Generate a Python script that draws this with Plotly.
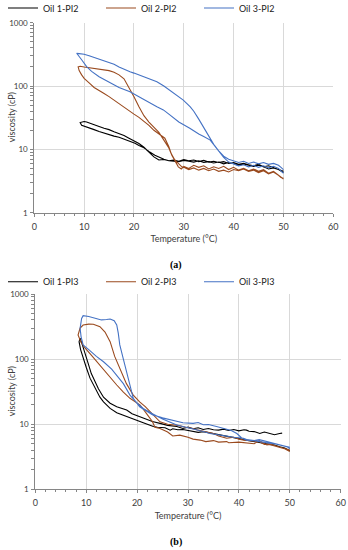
import plotly.graph_objects as go

# ---------------- Panel (a) data ----------------
a_oil1_down_T = [50, 49, 48, 47, 46, 45, 44, 43, 42, 41, 40, 39, 38, 37, 36, 35, 34, 33, 32, 31,
                 30, 29, 28, 27, 26, 25, 24.2, 23, 22, 21, 20.2, 19, 18, 17, 16, 15, 14, 13, 12, 11,
                 10, 9.5, 9.2]
a_oil1_down_v = [4.3, 4.8, 5.1, 4.9, 5.3, 5.6, 5.4, 5.7, 5.9, 5.6, 6.0, 6.2, 5.9, 6.3, 6.1, 6.4, 6.2, 6.6, 6.3, 6.5,
                 6.7, 6.4, 6.5, 6.6, 7.0, 7.6, 8.1, 9.3, 10.6, 11.5, 12.5, 13.6, 14.6, 15.5, 16.2, 17.0, 18.0, 19.2, 20.5, 21.8,
                 23.0, 24.0, 26.5]
a_oil1_up_T = [9.2, 10, 10.5, 11, 12, 13, 14, 15, 16, 17, 18, 19, 20, 21, 22, 23, 24, 25, 26, 27,
               28, 29, 30, 31, 32, 33, 34, 35, 36, 37, 38, 39, 40, 41, 42, 43, 44, 45, 46, 47,
               48, 49, 50]
a_oil1_up_v = [26.5, 27.5, 27, 26, 24.5, 23, 21.5, 20.5, 19, 17.8, 16.5, 15, 13.5, 12.4, 10.8, 9.0, 7.6, 6.8, 6.9, 6.6,
               6.8, 6.5, 6.9, 6.6, 6.8, 6.4, 6.7, 6.3, 6.5, 6.2, 6.4, 6.0, 6.2, 5.8, 6.0, 5.7, 5.5, 5.8, 5.3, 5.5,
               5.1, 4.8, 4.5]

a_oil2_down_T = [50, 49.5, 49, 48, 47, 46, 45, 44, 43, 42, 41, 40, 39, 38, 37, 36, 35, 34, 33, 32,
                 31, 30, 29.6, 28.9, 28.2, 27.5, 27, 26.2, 25, 24, 23, 22, 21, 20, 19, 18, 17, 16, 15, 14,
                 13, 12, 11, 10, 9.5, 9.0, 8.8]
a_oil2_down_v = [3.4, 3.7, 3.9, 4.4, 4.1, 4.6, 4.3, 4.7, 4.5, 4.9, 4.6, 4.8, 4.4, 4.7, 4.5, 4.9, 4.6, 5.0, 4.7, 5.1,
                 4.8, 5.2, 5.3, 6.0, 6.8, 8.5, 11, 15, 17.5, 20, 24, 28, 32, 36, 41, 47, 53, 60, 68, 76,
                 84, 95, 112, 132, 150, 175, 200]
a_oil2_up_T = [8.8, 9.2, 10, 11, 12, 13, 14, 15, 16, 16.5, 17, 18, 18.5, 19, 19.5, 20, 21, 22, 23, 24,
               25, 26, 27, 27.6, 28.3, 28.9, 29.5, 30, 31, 32, 33, 34, 35, 36, 37, 38, 39, 40, 41, 42,
               43, 44, 45, 46, 47, 48, 49, 49.5, 50]
a_oil2_up_v = [200, 205, 200, 195, 190, 185, 180, 175, 165, 159, 150, 130, 112, 95, 80, 68, 47, 34, 27, 22,
               18.5, 14, 10.5, 8.1, 6.4, 5.3, 4.9, 5.4, 5.0, 5.6, 5.2, 5.5, 4.9, 5.3, 5.0, 5.4, 4.8, 5.2, 4.7, 5.0,
               4.6, 4.9, 4.5, 4.8, 4.2, 4.5, 3.9, 3.6, 3.5]

a_oil3_up_T = [8.5, 9, 10, 11, 12.5, 14, 15, 16, 17, 18, 19.2, 20, 21, 22, 23, 24.6, 26, 27.5, 29, 29.9,
               31.3, 32, 33, 34, 35, 36, 37, 38, 39, 40, 41, 42, 43, 44, 45, 46, 47, 48, 49, 49.5, 50]
a_oil3_up_v = [329, 325, 318, 300, 275, 250, 235, 220, 200, 183, 168, 160, 150, 140, 130, 117, 100, 83, 68, 60,
               47, 40, 30, 22, 16, 12, 9.5, 7.8, 7.0, 6.5, 6.2, 6.5, 6.0, 6.3, 5.9, 6.2, 5.8, 6.0, 5.6, 5.2, 4.8]
a_oil3_down_T = [50, 49.5, 49, 48, 47, 46, 45, 44, 43, 42, 41, 40, 39, 38, 37, 36.3, 35.3, 34, 33, 31.2,
                 29, 27, 25.9, 24.6, 23, 21, 19.2, 17, 15, 13, 11.5, 10.5, 9.5, 8.5]
a_oil3_down_v = [4.2, 4.6, 5.0, 5.4, 5.1, 5.5, 5.2, 5.6, 5.3, 5.7, 5.5, 5.9, 6.3, 7.5, 9.5, 11.5, 14, 16, 17.5, 21.6,
                 27, 36, 42, 47, 55, 68, 81, 95, 115, 140, 170, 202, 260, 329]

# ---------------- Panel (b) data ----------------
b_oil1_up_T = [8.8, 9.2, 9.8, 10.4, 11, 11.7, 12.4, 13.4, 14.7, 16, 17, 17.95, 19, 20.6, 22, 23, 24.5, 26, 27.8, 29,
               30, 31, 32, 33, 34, 35, 36, 37, 38, 39, 40, 41, 41.5, 42, 43, 44.1, 45, 46, 47, 48, 48.5]
b_oil1_up_v = [209, 170, 125, 85, 60, 45, 35, 26, 21, 18.5, 17.5, 16.5, 14.5, 13, 11.8, 11, 10.3, 9.6, 9.2, 8.6,
               9.0, 8.5, 8.8, 8.3, 8.6, 8.2, 8.1, 8.4, 8.0, 8.3, 7.9, 8.2, 8.1, 7.8, 7.7, 7.2, 7.6, 7.3, 6.9, 7.2, 7.3]
b_oil1_down_T = [50, 49, 48, 47, 46, 45, 44, 43, 42, 41, 40, 39, 38, 37, 36, 35, 34, 33, 32, 31,
                 30, 29, 28, 27, 26.5, 25.5, 24, 23.2, 22, 20.6, 19, 17.95, 16, 14.7, 13.4, 12.7, 11.7, 10.75, 10, 9.4,
                 8.9, 8.6, 8.8]
b_oil1_down_v = [3.9, 4.3, 4.5, 4.8, 4.9, 5.1, 5.2, 5.5, 5.6, 5.8, 6.0, 6.3, 6.5, 6.6, 7.0, 7.2, 7.4, 7.7, 7.5, 7.8,
                 7.9, 8.3, 8.2, 8.5, 8.1, 8.8, 9.0, 9.2, 10.0, 11.0, 12, 13, 15, 17.5, 22, 26, 36, 51, 75, 103,
                 140, 185, 209]

b_oil2_up_T = [8.4, 8.8, 9.4, 10.5, 11.4, 12.7, 13.7, 14.7, 15.6, 16.6, 17.9, 19.25, 20.5, 21.6, 23, 24.5, 26, 28, 29.5, 31,
               32, 33, 34, 35, 36, 37.6, 39, 40, 41, 42, 43, 44, 45, 46, 47, 48, 49, 50]
b_oil2_up_v = [234, 300, 334, 345, 343, 315, 260, 185, 110, 72, 42, 28, 22, 18.6, 14.5, 10.9, 10.0, 9.6, 9.0, 8.6,
               8.1, 7.8, 7.5, 7.2, 6.6, 6.1, 6.3, 5.9, 5.7, 5.6, 5.5, 5.4, 4.9, 5.0, 4.7, 4.5, 4.2, 3.8]
b_oil2_down_T = [50, 49, 48, 47, 46, 45.5, 44, 43, 41.5, 40, 38, 37.6, 36, 35, 33.5, 32.4, 31, 30, 28.4, 27,
                 26, 24.5, 23.5, 23, 22, 20.6, 18.6, 17.3, 16, 14, 12.7, 11, 9.8, 9.0, 8.4]
b_oil2_down_v = [4.0, 4.2, 4.4, 4.6, 4.9, 4.8, 5.6, 5.0, 5.1, 5.3, 5.2, 5.4, 5.3, 5.6, 5.4, 5.7, 5.9, 6.3, 6.8, 6.6,
                 7.6, 8.6, 9.0, 11.0, 14.0, 19.7, 25, 31, 40, 62, 81, 115, 147, 180, 234]

b_oil3_up_T = [8.8, 9.1, 9.4, 10.5, 12.1, 13.0, 14.0, 14.7, 15.5, 16.0, 16.3, 16.6, 17.3, 17.95, 18.6, 19.25, 20.5, 21.9, 23, 25,
               27, 29, 31, 32, 33, 34, 35.6, 37, 38.5, 39.6, 40.5, 41.5, 43, 44, 45.5, 47, 48.5, 49.5, 50]
b_oil3_up_v = [297, 420, 464, 450, 424, 400, 405, 413, 390, 334, 250, 165, 100, 64, 40, 25, 18.5, 15.6, 14, 12.5,
               11.3, 10.5, 10.3, 10.6, 9.8, 9.9, 9.2, 8.6, 8.0, 7.2, 6.2, 5.7, 5.6, 5.8, 5.4, 5.0, 4.7, 4.5, 4.2]
b_oil3_down_T = [50, 49, 48, 47, 46, 45, 44, 43, 41.5, 40.9, 39, 37, 35.5, 34.3, 33, 32, 30, 27.8, 25, 23,
                 21.2, 20, 18.6, 17.3, 16, 15, 13.4, 12, 10.5, 9.4, 9.0, 8.8]
b_oil3_down_v = [4.4, 4.6, 4.8, 5.0, 5.1, 5.3, 5.5, 5.6, 5.8, 6.1, 6.3, 6.6, 7.0, 7.2, 7.7, 8.0, 8.8, 9.7, 12, 14.5,
                 17.5, 21, 28, 42, 57, 70, 91, 110, 140, 165, 220, 297]

names_a = ["Oil 1-PI2", "Oil 2-PI2", "Oil 3-PI2"]
names_b = ["Oil 1-PI3", "Oil 2-PI3", "Oil 3-PI3"]
colors = ["#000000", "#9a4a1e", "#4472c4"]

x_ticks = [0, 10, 20, 30, 40, 50, 60]
x_title = "Temperature (°C)"
y_title = "viscosity (cP)"

series_a = [
    (a_oil1_down_T + a_oil1_up_T, a_oil1_down_v + a_oil1_up_v),
    (a_oil2_down_T + a_oil2_up_T, a_oil2_down_v + a_oil2_up_v),
    (a_oil3_down_T + a_oil3_up_T, a_oil3_down_v + a_oil3_up_v),
]
series_b = [
    (b_oil1_down_T + b_oil1_up_T, b_oil1_down_v + b_oil1_up_v),
    (b_oil2_down_T + b_oil2_up_T, b_oil2_down_v + b_oil2_up_v),
    (b_oil3_down_T + b_oil3_up_T, b_oil3_down_v + b_oil3_up_v),
]

fig = go.Figure()
for (T, v), name, c in zip(series_a, names_a, colors):
    fig.add_trace(go.Scatter(x=T, y=v, mode="lines", name=name, line=dict(color=c, width=1.1),
                             xaxis="x", yaxis="y", legend="legend"))
for (T, v), name, c in zip(series_b, names_b, colors):
    fig.add_trace(go.Scatter(x=T, y=v, mode="lines", name=name, line=dict(color=c, width=1.1),
                             xaxis="x2", yaxis="y2", legend="legend2"))

W, H = 348, 550
FONT = "Lato, Liberation Sans, Arial, sans-serif"
TXT = "#404040"
GRID = "#d9d9d9"
AX = "#868686"


def xax(domain, anchor):
    return dict(domain=domain, anchor=anchor, range=[0, 60], tickvals=x_ticks, automargin=False,
                showgrid=True, gridcolor=GRID, gridwidth=1, zeroline=False,
                showline=True, linecolor=AX, linewidth=1,
                ticks="outside", ticklen=3, tickcolor=AX, ticklabelstandoff=2,
                minor=dict(dtick=2, ticks="outside", ticklen=2, tickcolor=AX, showgrid=False),
                tickfont=dict(size=9, color=TXT),
                title=dict(text=x_title, font=dict(size=9, color=TXT), standoff=5))


def yax(domain, anchor):
    return dict(domain=domain, anchor=anchor, type="log", range=[0, 3], dtick=1, automargin=False,
                exponentformat="none",
                showgrid=True, gridcolor=GRID, gridwidth=1, zeroline=False,
                showline=True, linecolor=AX, linewidth=1,
                ticks="outside", ticklen=3, tickcolor=AX, ticklabelstandoff=1,
                minor=dict(dtick="D1", ticks="outside", ticklen=3, tickcolor=AX, showgrid=False),
                tickfont=dict(size=8, color=TXT))


serif = "Liberation Serif, Times New Roman, serif"
fig.update_layout(
    width=W, height=H,
    margin=dict(l=0, r=0, t=0, b=0, autoexpand=False),
    paper_bgcolor="white", plot_bgcolor="white",
    font=dict(family=FONT, size=9, color=TXT),
    xaxis=xax([34.3 / W, 333.3 / W], "y"),
    yaxis=yax([1 - 212.7 / H, 1 - 22.7 / H], "x"),
    xaxis2=xax([35.3 / W, 340.7 / W], "y2"),
    yaxis2=yax([1 - 489.3 / H, 1 - 294 / H], "x2"),
    legend=dict(orientation="h", x=3 / W, xanchor="left", y=1 - 8 / H, yanchor="middle",
                entrywidth=53, entrywidthmode="pixels", font=dict(size=9, color="#202020"),
                bgcolor="rgba(0,0,0,0)", itemwidth=30, tracegroupgap=0),
    legend2=dict(orientation="h", x=3 / W, xanchor="left", y=1 - 281.7 / H, yanchor="middle",
                 entrywidth=53, entrywidthmode="pixels", font=dict(size=9, color="#202020"),
                 bgcolor="rgba(0,0,0,0)", itemwidth=30, tracegroupgap=0),
    annotations=[
        dict(text=y_title, textangle=-90, x=11.5 / W, y=1 - 117.7 / H, xref="paper", yref="paper",
             xanchor="center", yanchor="middle",
             showarrow=False, font=dict(size=9, color=TXT)),
        dict(text=y_title, textangle=-90, x=11.5 / W, y=1 - 391.7 / H, xref="paper", yref="paper",
             xanchor="center", yanchor="middle",
             showarrow=False, font=dict(size=9, color=TXT)),
        dict(text="<b>(a)</b>", x=176 / W, y=1 - 265 / H, xref="paper", yref="paper",
             xanchor="center", yanchor="middle",
             showarrow=False, font=dict(family=serif, size=10, color="#000000")),
        dict(text="<b>(b)</b>", x=176 / W, y=1 - 541.7 / H, xref="paper", yref="paper",
             xanchor="center", yanchor="middle",
             showarrow=False, font=dict(family=serif, size=10, color="#000000")),
    ],
)

fig.write_html("out.html", config={"displayModeBar": False},
               post_script="document.body.style.margin='0';")
